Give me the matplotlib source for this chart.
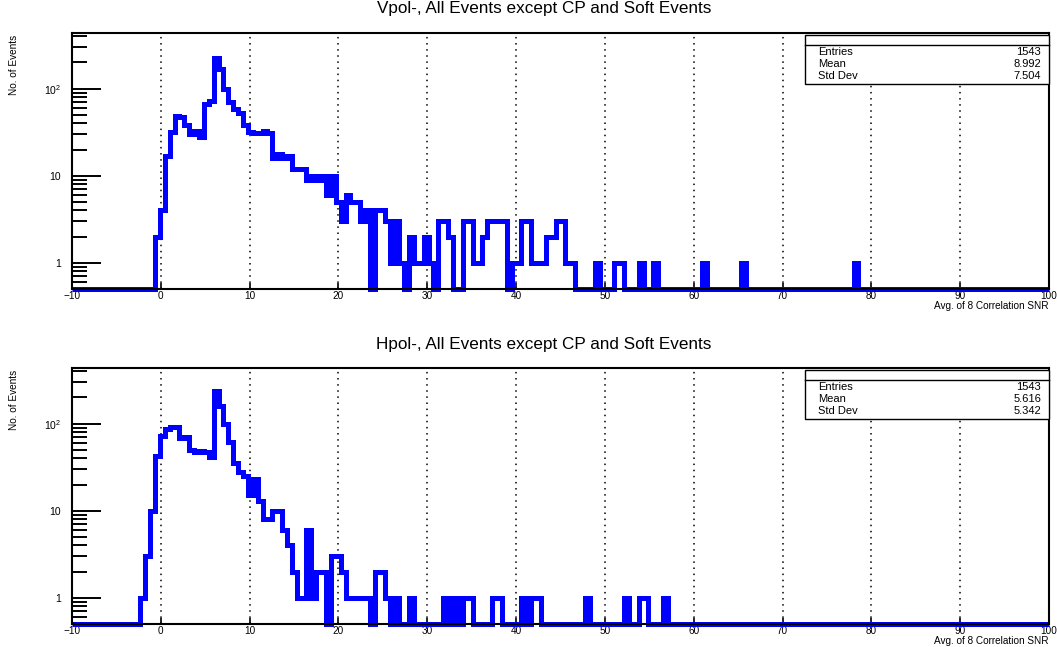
import numpy as np
import matplotlib
matplotlib.use('Agg')
import matplotlib.pyplot as plt
from matplotlib.patches import Rectangle

plt.rcParams['font.family'] = ['Liberation Sans', 'DejaVu Sans']
plt.rcParams['mathtext.default'] = 'regular'

# 200 bins from -10 to 100
edges = np.linspace(-10, 100, 201)

# Vpol- : counts from bin 17 onwards
top_first = 17
top_counts = [2, 4, 17, 32, 49, 47, 38, 30, 33, 28, 67, 73, 224, 170, 100, 70, 59, 52, 38, 32,
              31, 31, 33, 31, 16, 18, 16, 17, 12, 12, 12, 9, 10, 9, 10, 6, 10, 5, 3, 6,
              5, 5, 3, 4, 0, 4, 4, 3, 1, 3, 1, 0, 2, 1, 1, 2, 1, 0, 3, 3,
              2, 0, 0, 3, 3, 1, 1, 2, 3, 3, 3, 3, 0, 1, 1, 3, 3, 1, 1, 1,
              2, 2, 3, 3, 1, 1, 0, 0, 0, 0, 1, 0, 0, 0, 1, 1, 0, 0, 0, 1,
              0, 0, 1, 0, 0, 0, 0, 0, 0, 0, 0, 0, 1, 0, 0, 0, 0, 0, 0, 0,
              1, 0, 0, 0, 0, 0, 0, 0, 0, 0, 0, 0, 0, 0, 0, 0, 0, 0, 0, 0,
              0, 0, 0, 1]

# Hpol- : counts from bin 14 onwards
bot_first = 14
bot_counts = [1, 3, 10, 43, 73, 88, 92, 92, 68, 70, 50, 47, 48, 47, 41, 240, 160, 100, 61, 35,
              28, 25, 15, 23, 13, 8, 8, 10, 10, 6, 4, 2, 1, 1, 6, 1, 2, 2, 0, 3,
              3, 2, 1, 1, 1, 1, 1, 0, 2, 2, 1, 0, 1, 0, 0, 1, 0, 0, 0, 0,
              0, 0, 1, 0, 1, 0, 1, 1, 0, 0, 0, 0, 1, 1, 0, 0, 0, 0, 1, 0,
              1, 1, 0, 0, 0, 0, 0, 0, 0, 0, 0, 1, 0, 0, 0, 0, 0, 0, 0, 1,
              0, 0, 1, 1, 0, 0, 0, 1]

titles = ['Vpol-, All Events except CP and Soft Events',
          'Hpol-, All Events except CP and Soft Events']
stats = [('1543', '8.992', '7.504'), ('1543', '5.616', '5.342')]
stat_names = ['Entries', 'Mean', 'Std Dev']
xticks = np.arange(-10, 101, 10)
xlabels = ['\u221210'] + [str(v) for v in xticks[1:]]

ymin, ymax = 0.5, 436

W, H = 1057, 647
fig = plt.figure(figsize=(W / 100, H / 100), dpi=100)


def px(x0, y0, x1, y1):
    return [x0 / W, 1 - y1 / H, (x1 - x0) / W, (y1 - y0) / H]


def full(first, counts):
    c = np.zeros(200)
    c[first:first + len(counts)] = counts
    return c


panels = [(full(top_first, top_counts), 0), (full(bot_first, bot_counts), 335)]

for i, (counts, off) in enumerate(panels):
    ax = fig.add_axes(px(72, 33 + off, 1049, 289 + off))
    vals = np.maximum(counts, ymin)
    sp = ax.stairs(vals, edges, baseline=None, color='#0000ff', lw=3.6, zorder=3, clip_on=False)
    sp.set_joinstyle('miter')
    sp.set_capstyle('butt')
    ax.set_yscale('log')
    ax.set_xlim(-10, 100)
    ax.set_ylim(ymin, ymax)
    for xv in xticks[1:-1]:
        ax.axvline(xv, color='black', lw=1.1, ls=(0, (1, 3)), zorder=1)
    for s in ax.spines.values():
        s.set_linewidth(1.5)
        s.set_zorder(4)
    ax.set_xticks(xticks)
    ax.set_xticklabels(xlabels)
    ax.set_yticks([1, 10, 100])
    ax.set_yticklabels(['1', '10', '10$^{2}$'])
    minors = [m * d for d in (1, 10, 100) for m in range(2, 10) if m * d < ymax] + [0.6, 0.7, 0.8, 0.9]
    ax.set_yticks(minors, minor=True)
    ax.set_yticklabels([], minor=True)
    ax.tick_params(axis='x', which='major', direction='in', length=4, width=1.2, labelsize=7.2, pad=1.5)
    ax.tick_params(axis='x', which='minor', bottom=False)
    ax.tick_params(axis='y', which='major', direction='in', length=21, width=1.4, labelsize=7.5, pad=8)
    ax.tick_params(axis='y', which='minor', direction='in', length=11, width=1.4)
    fig.text(1049 / W, 1 - (306 + off) / H, 'Avg. of 8 Correlation SNR',
             ha='right', va='center', fontsize=7.2)
    fig.text(14 / W, 1 - (35 + off) / H, 'No. of Events', rotation=90,
             ha='center', va='top', fontsize=7.2)
    fig.text(544 / W, 1 - (9 + off) / H, titles[i], ha='center', va='center', fontsize=12.3)

    # stats box
    bx0, by0, bx1, by1 = 805, 35 + off, 1049, 84 + off
    fig.patches.append(Rectangle((bx0 / W, 1 - by1 / H), (bx1 - bx0) / W, (by1 - by0) / H,
                                 transform=fig.transFigure, facecolor='white',
                                 edgecolor='black', lw=1.0, zorder=5))
    fig.lines.append(plt.Line2D([bx0 / W, bx1 / W], [1 - (45 + off) / H] * 2,
                                transform=fig.transFigure, color='black', lw=1.0, zorder=6))
    for j, (name, val) in enumerate(zip(stat_names, stats[i])):
        yy = 1 - (52 + 12 * j + off) / H
        fig.text(818 / W, yy, name, ha='left', va='center', fontsize=8, zorder=7)
        fig.text(1041 / W, yy, val, ha='right', va='center', fontsize=8, zorder=7)

fig.savefig('out.png', dpi=100)
